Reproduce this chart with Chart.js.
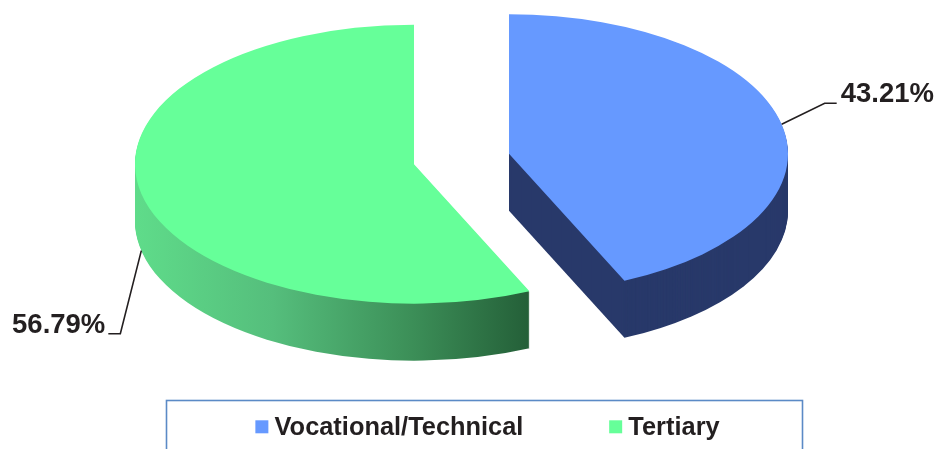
<!DOCTYPE html>
<html><head><meta charset="utf-8">
<style>html,body{margin:0;padding:0;background:#fff}canvas{display:block}</style>
<script src="https://cdn.jsdelivr.net/npm/chart.js@4"></script></head>
<body><canvas id="c" width="937" height="449"></canvas>
<script>
const categories = ['Vocational/Technical', 'Tertiary'];
const shares = [43.21, 56.79];
const topColors = ['#6699FF', '#66FF99'];
const wallStops = [
  [[0, '#28396A'], [1, '#28396A']],
  [[0, '#5FDC8A'], [0.35, '#55BE7C'], [0.7, '#3C8F58'], [1, '#245F38']]
];
const FONT = '"Liberation Sans", Arial, sans-serif';
const INK = '#231F20';
const SQUASH = 0.5, CX = 461.5, CY = 159, DEPTH = 57, EXPLODE = 48.6, RADIUS = 279;

const pie3d = {
  id: 'pie3d',
  beforeDatasetDraw(chart) {
    const ctx = chart.ctx, arcs = chart.getDatasetMeta(0).data;
    const area = chart.chartArea;
    ctx.save();
    ctx.translate(CX, CY);
    ctx.scale(1, SQUASH);
    ctx.translate(-(area.left + area.width / 2), -(area.top + area.height / 2));
    const shift = a => {
      const m = (a.startAngle + a.endAngle) / 2;
      return [Math.cos(m) * EXPLODE, Math.sin(m) * EXPLODE];
    };
    // extruded walls
    arcs.forEach((a, i) => {
      const s = shift(a);
      const x = a.x + s[0], y = a.y + s[1];
      const g = ctx.createLinearGradient(x - a.outerRadius, 0, x + a.outerRadius * Math.cos(a.startAngle), 0);
      wallStops[i].forEach(st => g.addColorStop(st[0], st[1]));
      ctx.fillStyle = i === 0 ? wallStops[0][0][1] : g;
      for (let d = DEPTH; d >= 1; d--) {
        ctx.beginPath();
        ctx.moveTo(x, y + d / SQUASH);
        ctx.arc(x, y + d / SQUASH, a.outerRadius, a.startAngle, a.endAngle);
        ctx.closePath();
        ctx.fill();
      }
    });
    // top faces, drawn by the library's arc elements
    arcs.forEach(a => {
      const s = shift(a);
      ctx.save();
      ctx.translate(s[0], s[1]);
      a.draw(ctx);
      ctx.restore();
    });
    ctx.restore();

    // leader lines and value labels, anchored on each slice's mid-angle
    const map = (x, y) => [x - area.left - area.width / 2 + CX, (y - area.top - area.height / 2) * SQUASH + CY];
    ctx.save();
    ctx.strokeStyle = INK; ctx.lineWidth = 1.6;
    ctx.fillStyle = INK;
    ctx.font = 'bold 27.5px ' + FONT;
    ctx.textBaseline = 'middle';
    arcs.forEach((a, i) => {
      const m = (a.startAngle + a.endAngle) / 2, s = shift(a);
      const p = map(a.x + s[0] + a.outerRadius * Math.cos(m), a.y + s[1] + a.outerRadius * Math.sin(m));
      const label = shares[i].toFixed(2) + '%';
      ctx.beginPath();
      if (i === 0) {
        ctx.moveTo(p[0], p[1]);
        ctx.lineTo(p[0] + 43, p[1] - 21);
        ctx.lineTo(p[0] + 55, p[1] - 21);
        ctx.stroke();
        ctx.textAlign = 'left';
        ctx.fillText(label, p[0] + 59, p[1] - 30);
      } else {
        const b = p[1] + DEPTH;
        ctx.moveTo(p[0], b);
        ctx.lineTo(p[0] - 21, b + 83);
        ctx.lineTo(p[0] - 33, b + 83);
        ctx.stroke();
        ctx.textAlign = 'right';
        ctx.fillText(label, p[0] - 36, b + 75);
      }
    });
    ctx.restore();
    return false;
  },
  afterDraw(chart) {
    const ctx = chart.ctx, boxes = chart.legend.legendHitBoxes;
    ctx.save();
    ctx.strokeStyle = '#5B8AC6'; ctx.lineWidth = 1.6;
    ctx.strokeRect(166.5, 400.5, 636, 60);
    boxes.forEach((b, i) => {
      ctx.fillStyle = topColors[i];
      ctx.fillRect(b.left, b.top + b.height / 2 - 8, 13, 13);
    });
    ctx.restore();
  }
};

new Chart(document.getElementById('c'), {
  type: 'pie',
  data: { labels: categories, datasets: [{ data: shares, backgroundColor: topColors, borderWidth: 0 }] },
  options: {
    responsive: false, animation: false, rotation: 0, radius: RADIUS,
    layout: { padding: { left: 38, bottom: -2 } },
    plugins: {
      tooltip: { enabled: false },
      legend: {
        position: 'bottom', align: 'center',
        labels: {
          boxWidth: 6.5, padding: 85.8, color: INK,
          font: { family: FONT, size: 25.4, weight: 'bold' },
          generateLabels() {
            return categories.map((t, i) => ({ text: t, fontColor: INK, fillStyle: 'rgba(0,0,0,0)', strokeStyle: 'rgba(0,0,0,0)', lineWidth: 0, index: i }));
          }
        }
      }
    }
  },
  plugins: [pie3d]
});
</script></body></html>
